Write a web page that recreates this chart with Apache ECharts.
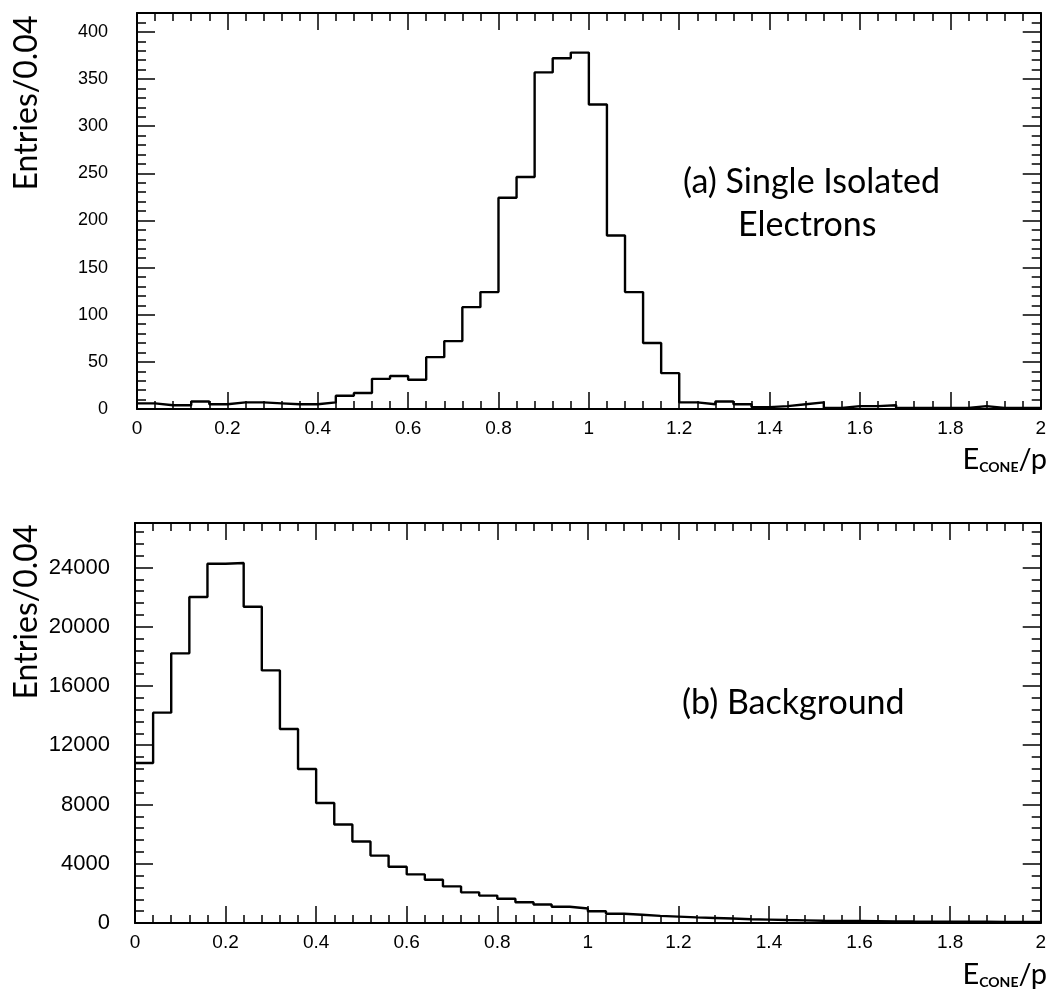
<!DOCTYPE html>
<html>
<head>
<meta charset="utf-8">
<script src="https://cdn.jsdelivr.net/npm/echarts@6/dist/echarts.min.js"></script>
<style>
html,body{margin:0;padding:0;background:#fff;}
#chart{width:1049px;height:992px;}
</style>
</head>
<body>
<div id="chart"></div>
<script>
// ---- data ----
const binWidth = 0.04;
// (a) Single Isolated Electrons, entries per 0.04 bin, E_cone/p from 0 to 2
const electrons = [6, 4, 4, 8, 5, 7, 7, 6, 5, 5,
                   7, 14, 17, 32, 35, 31, 55, 72, 108, 124,
                   224, 246, 357, 372, 378, 323, 184, 124, 70, 38,
                   7, 5, 8, 5, 2, 3, 5, 7, 1, 3,
                   3, 4, 1, 1, 1, 1, 3, 1, 1, 1];
// (b) Background
const background = [10800, 14200, 18200, 22000, 24250, 24300, 21350, 17050, 13100, 10400,
                    8100, 6650, 5500, 4550, 3800, 3280, 2920, 2470, 2070, 1850,
                    1640, 1400, 1250, 1100, 980, 790, 620, 560, 480, 430,
                    380, 340, 300, 250, 225, 200, 180, 150, 140, 130,
                    120, 110, 100, 95, 90, 85, 80, 75, 70, 65];
const xTickLabels = ['0', '0.2', '0.4', '0.6', '0.8', '1', '1.2', '1.4', '1.6', '1.8', '2'];
const yTickLabelsA = ['0', '50', '100', '150', '200', '250', '300', '350', '400'];
const yTickLabelsB = ['0', '4000', '8000', '12000', '16000', '20000', '24000'];

// ---- build ----
function stepData(vals) {
  const d = vals.map((v, i) => [+(i * binWidth).toFixed(2), v]);
  d.push([+(vals.length * binWidth).toFixed(2), vals[vals.length - 1]]);
  return d;
}

const LABEL_FONT = "Arial";
const TEXT_FONT = "Lato, 'Noto Sans', sans-serif";

function makeAxes(gridIndex, yMax, yMajor, yMinor, yLabels, yLabelMargin, yFontSize) {
  const common = {gridIndex, type: 'value', splitLine: {show: false}};
  const line = {show: true, onZero: false, lineStyle: {color: '#000', width: 2}};
  const noLine = {show: false, onZero: false};
  const xs = [];
  const ys = [];
  ['bottom', 'top'].forEach((pos) => {
    xs.push(Object.assign({}, common, {
      position: pos, min: 0, max: 2, interval: 0.2,
      axisLine: line,
      axisTick: {show: true, inside: true, length: 17, lineStyle: {color: '#000', width: 1.5}},
      axisLabel: pos === 'bottom' ? {
        show: true, color: '#000', fontSize: 19, fontFamily: LABEL_FONT, margin: 10,
        formatter: (v) => { const k = Math.round(v / 0.2); return xTickLabels[k] !== undefined ? xTickLabels[k] : ''; }
      } : {show: false}
    }));
    xs.push(Object.assign({}, common, {
      position: pos, min: 0, max: 2, interval: 0.04,
      axisLine: noLine,
      axisTick: {show: true, inside: true, length: 8, lineStyle: {color: '#000', width: 1.5}},
      axisLabel: {show: false}
    }));
  });
  ['left', 'right'].forEach((pos) => {
    ys.push(Object.assign({}, common, {
      position: pos, min: 0, max: yMax, interval: yMajor,
      axisLine: line,
      axisTick: {show: true, inside: true, length: 18, lineStyle: {color: '#000', width: 1.5}},
      axisLabel: pos === 'left' ? {
        show: true, color: '#000', fontSize: yFontSize, fontFamily: LABEL_FONT, margin: yLabelMargin,
        showMaxLabel: false,
        formatter: (v) => { const k = Math.round(v / yMajor); return (Math.abs(k * yMajor - v) < 1e-6 && yLabels[k] !== undefined) ? yLabels[k] : ''; }
      } : {show: false}
    }));
    ys.push(Object.assign({}, common, {
      position: pos, min: 0, max: yMax, interval: yMinor,
      axisLine: noLine,
      axisTick: {show: true, inside: true, length: 9, lineStyle: {color: '#000', width: 1.5}},
      axisLabel: {show: false}
    }));
  });
  return {xs, ys};
}

const A = makeAxes(0, 420, 50, 10, yTickLabelsA, 29, 18);
const B = makeAxes(1, 27000, 4000, 800, yTickLabelsB, 25, 22);

const xNameStyle = {
  text: '{e|E}{s|CONE}{e|/p}', align: 'right', verticalAlign: 'bottom', fill: '#000',
  rich: {
    e: {fontSize: 29, fontFamily: TEXT_FONT, fill: '#000'},
    s: {fontSize: 14, fontWeight: 'bold', fontFamily: TEXT_FONT, fill: '#000', verticalAlign: 'bottom'}
  }
};

const option = {
  animation: false,
  backgroundColor: '#fff',
  grid: [
    {left: 137, right: 5, top: 13, height: 396},
    {left: 135, right: 5, top: 523, height: 400}
  ],
  xAxis: A.xs.concat(B.xs),
  yAxis: A.ys.concat(B.ys),
  series: [
    {
      type: 'line', xAxisIndex: 0, yAxisIndex: 0, step: 'end',
      data: stepData(electrons), symbol: 'none', silent: true,
      lineStyle: {color: '#000', width: 2.4}
    },
    {
      type: 'line', xAxisIndex: 4, yAxisIndex: 4, step: 'end',
      data: stepData(background), symbol: 'none', silent: true,
      lineStyle: {color: '#000', width: 2.4}
    }
  ],
  graphic: [
    {type: 'text', left: 683, top: 165, style: {text: '(a) Single Isolated', font: "34px " + TEXT_FONT, fill: '#000'}},
    {type: 'text', left: 738, top: 208, style: {text: 'Electrons', font: "34px " + TEXT_FONT, fill: '#000'}},
    {type: 'text', left: 682, top: 686, style: {text: '(b) Background', font: "34px " + TEXT_FONT, fill: '#000'}},
    {type: 'text', x: 27, y: 103, rotation: Math.PI / 2,
     style: {text: 'Entries/0.04', font: "32px " + TEXT_FONT, fill: '#000', align: 'center', verticalAlign: 'middle'}},
    {type: 'text', x: 27, y: 612, rotation: Math.PI / 2,
     style: {text: 'Entries/0.04', font: "32px " + TEXT_FONT, fill: '#000', align: 'center', verticalAlign: 'middle'}},
    {type: 'text', x: 1047, y: 474, style: xNameStyle},
    {type: 'text', x: 1047, y: 989, style: xNameStyle}
  ]
};

const chart = echarts.init(document.getElementById('chart'), null, {renderer: 'canvas'});
chart.setOption(option);
</script>
</body>
</html>
